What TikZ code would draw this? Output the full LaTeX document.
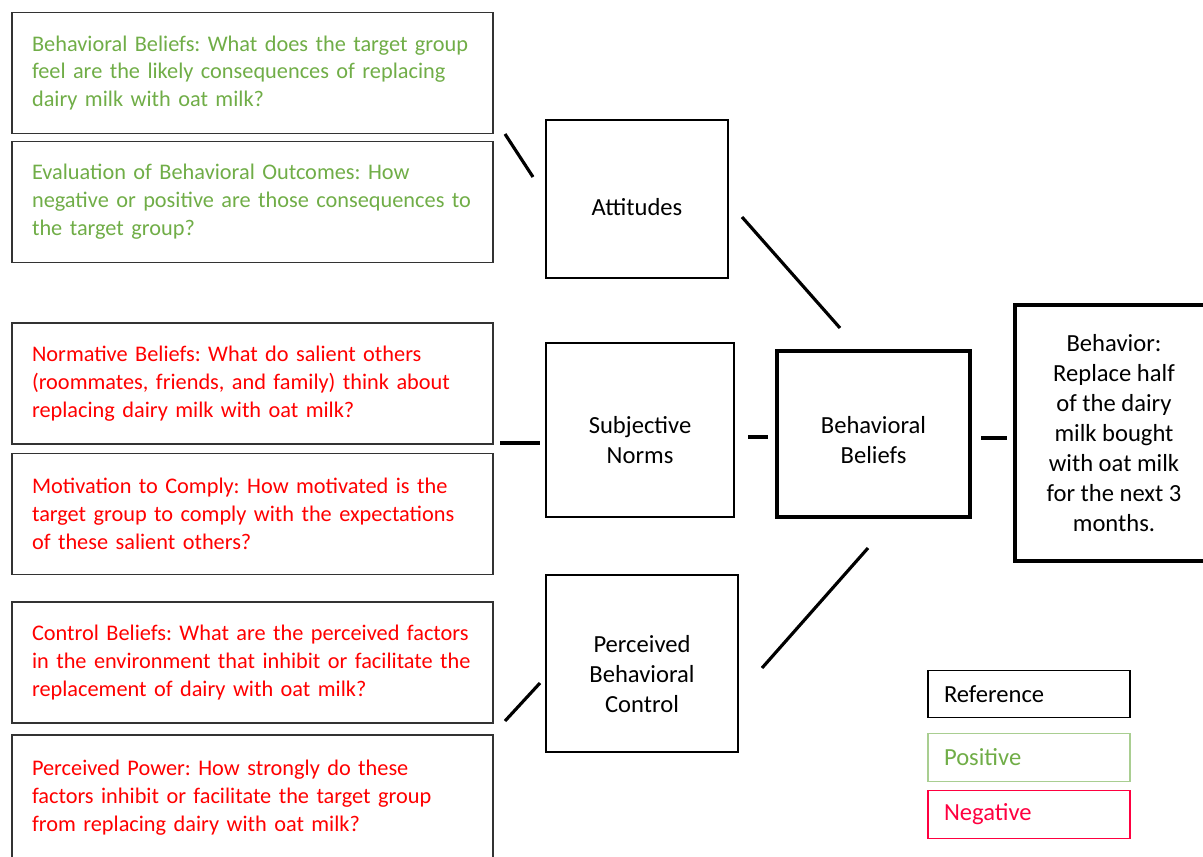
\documentclass[tikz,border=0pt]{standalone}
\usepackage{fontspec}
\setmainfont{Carlito}
\usepackage{tikz}
\usepackage{xcolor}
\definecolor{posgreen}{RGB}{112,173,71}
\definecolor{negred}{RGB}{255,0,0}
\definecolor{negpink}{RGB}{255,0,64}
\newcommand{\lowered}[1]{\rule{0pt}{#1}}
\frenchspacing
\hyphenpenalty=10000

\begin{document}
\begin{tikzpicture}[x=0.02cm,y=-0.02cm,
    belief/.style={draw=black!80, line width=0.9pt, minimum width=9.62cm, minimum height=2.42cm,
        text width=8.82cm, inner xsep=0.4cm, align=left,
        font=\fontsize{12.7}{15.9}\selectfont},
    factor/.style={draw, line width=1.3pt, align=center, font=\fontsize{14}{17}\selectfont},
    target/.style={factor, line width=2.2pt},
    link/.style={line width=1.8pt},
    legendbox/.style={draw, line width=0.8pt, minimum width=4.04cm, minimum height=0.95cm,
        text width=3.4cm, inner xsep=0.32cm, align=left, font=\fontsize{14}{17}\selectfont}]
    \clip (0,0) rectangle (1203,856);

    % Beliefs (left column)
    \node[belief, text=posgreen] (bhbel) at (252.5,73) {Behavioral Beliefs: What does the target group\\feel are the likely consequences of replacing\\dairy milk with oat milk?};
    \node[belief, text=posgreen] (evout) at (252.5,202) {Evaluation of Behavioral Outcomes: How\\negative or positive are those consequences to\\the target group?};
    \node[belief, text=negred] (normbel) at (252.5,383.5) {Normative Beliefs: What do salient others\\(roommates, friends, and family) think about\\replacing dairy milk with oat milk?};
    \node[belief, text=negred] (motiv) at (252.5,514) {Motivation to Comply: How motivated is the\\target group to comply with the expectations\\of these salient others?};
    \node[belief, text=negred] (ctrlbel) at (252.5,662.5) {Control Beliefs: What are the perceived factors\\in the environment that inhibit or facilitate the\\replacement of dairy with oat milk?};
    \node[belief, text=negred, minimum height=2.5cm] (power) at (252.5,797.5) {Perceived Power: How strongly do these\\factors inhibit or facilitate the target group\\from replacing dairy with oat milk?};

    % Factors
    \node[factor, minimum width=3.64cm, minimum height=3.16cm] (att) at (637,199) {\lowered{19pt}Attitudes};
    \node[factor, minimum width=3.76cm, minimum height=3.48cm] (subj) at (640,430) {\lowered{21pt}Subjective\\Norms};
    \node[factor, minimum width=3.84cm, minimum height=3.54cm] (pbc) at (642,663.5) {\lowered{22pt}Perceived\\Behavioral\\Control};

    % Beliefs and behavior
    \node[target, minimum width=3.86cm, minimum height=3.32cm] (bhb) at (873.5,434) {\lowered{17pt}Behavioral\\Beliefs};
    \node[target, minimum width=3.96cm, minimum height=5.12cm] (behav) at (1114,433) {Behavior:\\Replace half\\of the dairy\\milk bought\\with oat milk\\for the next 3\\months.};

    % links
    \coordinate (l1a) at (505,134);
    \coordinate (l1b) at (533,177);
    \coordinate (l2a) at (742,217);
    \coordinate (l2b) at (840,328);
    \coordinate (l3a) at (500,443);
    \coordinate (l3b) at (540,443);
    \coordinate (l4a) at (748,437);
    \coordinate (l4b) at (768,437);
    \coordinate (l5a) at (981,438);
    \coordinate (l5b) at (1007,438);
    \coordinate (l6a) at (505,721);
    \coordinate (l6b) at (540,683);
    \coordinate (l7a) at (762,668);
    \coordinate (l7b) at (868,548);
    \draw[link] (l1a) -- (l1b);
    \draw[link] (l2a) -- (l2b);
    \draw[link] (l3a) -- (l3b);
    \draw[link] (l4a) -- (l4b);
    \draw[link] (l5a) -- (l5b);
    \draw[link] (l6a) -- (l6b);
    \draw[link] (l7a) -- (l7b);

    % Legend
    \node[legendbox] (lref) at (1029,694) {Reference};
    \node[legendbox, draw=posgreen!60, text=posgreen] (lpos) at (1029,757.5) {Positive};
    \node[legendbox, draw=negpink, text=negpink] (lneg) at (1029,814.5) {Negative};
\end{tikzpicture}
\end{document}
